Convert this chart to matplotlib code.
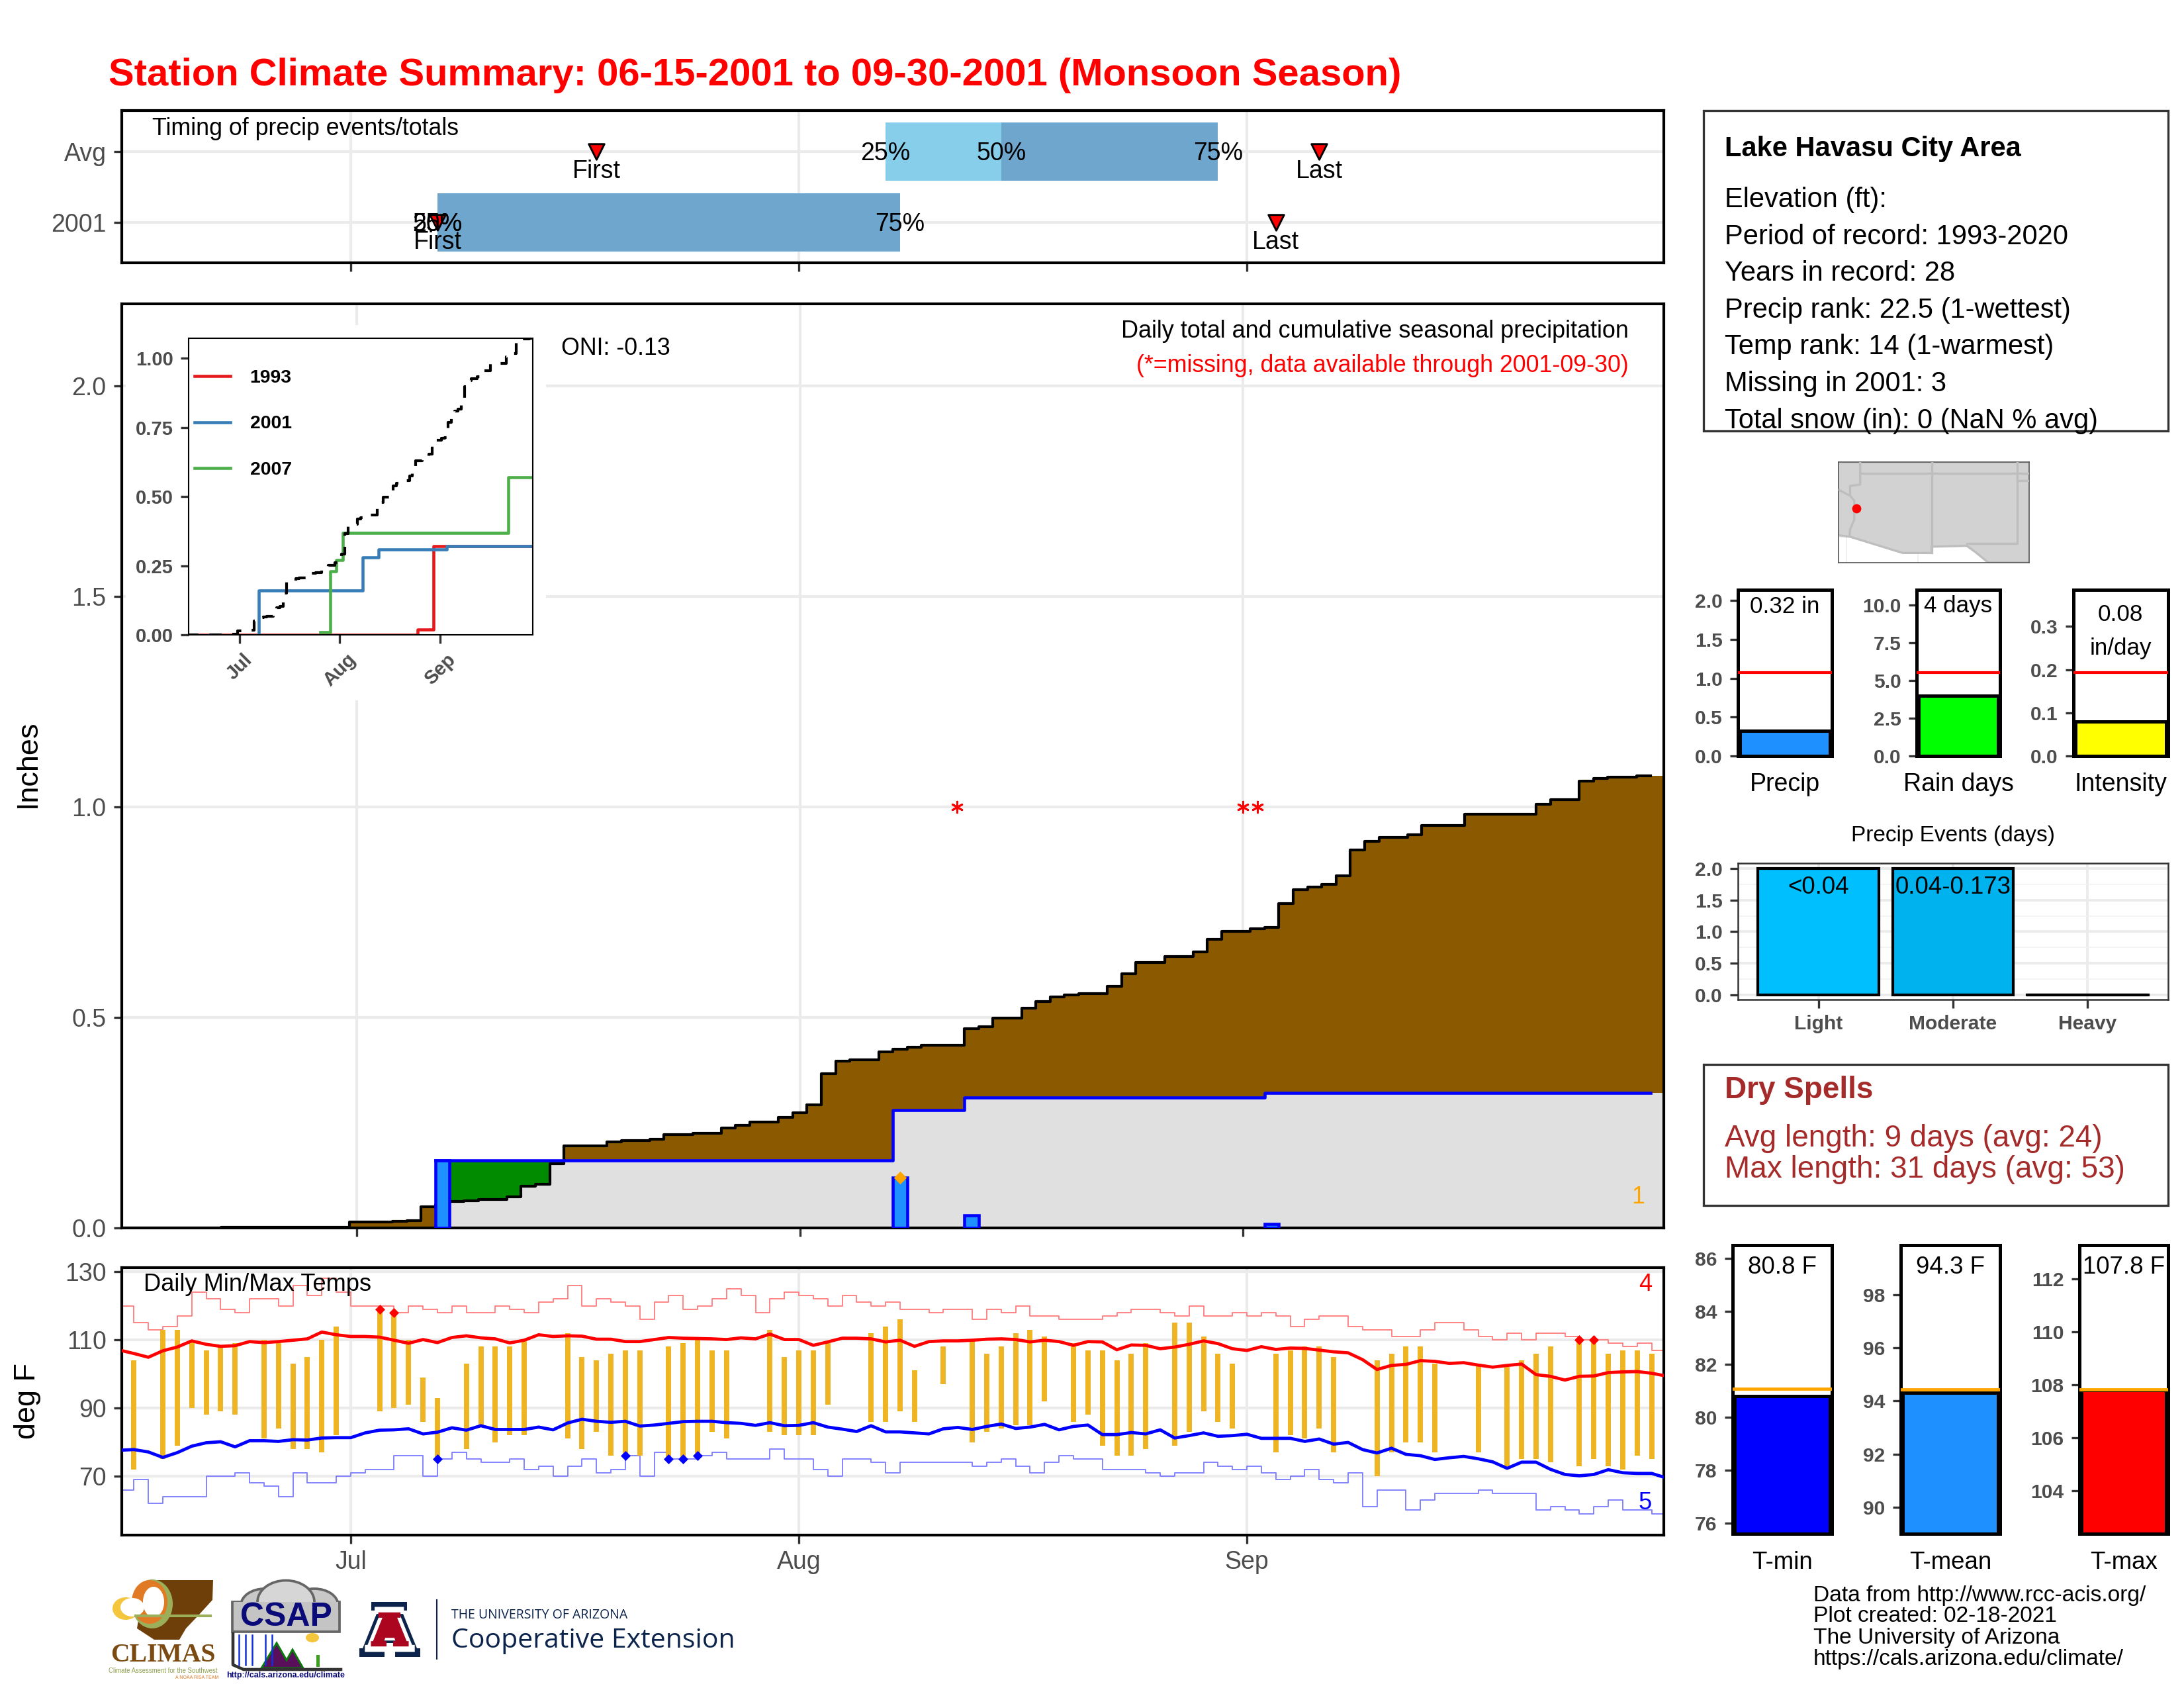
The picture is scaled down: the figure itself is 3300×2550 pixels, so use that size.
import numpy as np
import matplotlib
matplotlib.use("Agg")
from matplotlib import pyplot as plt
from matplotlib.patches import Ellipse, Polygon, Rectangle

plt.rcParams["font.family"] = ["Liberation Sans", "DejaVu Sans"]

W, H = 3300, 2550
GRAY = "#4D4D4D"
GRID = "#EBEBEB"
NAVY = "#0C234B"

# days are counted from Jul 1 (Jun 15 = -16, Aug 1 = 31, Sep 1 = 62, Sep 30 = 91)
month_days = [0, 31, 62]
month_labels = ["Jul", "Aug", "Sep"]

# ---- timing panel
timing_rows = ["2001", "Avg"]
pct_25 = [6, 37]
pct_50 = [6, 45]
pct_75 = [38, 60]
first_day = [6, 17]
last_day = [64, 67]

# ---- daily and cumulative precip
precip_days = np.arange(-16, 91)
avg_cum = [0, 0, 0, 0, 0, 0, 0, 0.001, 0.001, 0.001, 0.001, 0.001, 0.001, 0.002, 0.002, 0.002,
           0.0144, 0.0144, 0.0144, 0.016, 0.0176, 0.05, 0.055, 0.063, 0.065, 0.068,
           0.068, 0.0745, 0.0985, 0.103, 0.152, 0.195, 0.195, 0.195, 0.204, 0.207,
           0.207, 0.21, 0.222, 0.222, 0.225, 0.225, 0.237, 0.244, 0.252, 0.252,
           0.262, 0.274, 0.293, 0.367, 0.397, 0.399, 0.399, 0.419, 0.425, 0.429,
           0.434, 0.434, 0.434, 0.474, 0.478, 0.499, 0.499, 0.522, 0.538, 0.549,
           0.554, 0.557, 0.557, 0.574, 0.603, 0.63, 0.63, 0.644, 0.644, 0.655,
           0.686, 0.704, 0.704, 0.711, 0.714, 0.77, 0.804, 0.809, 0.816, 0.836,
           0.898, 0.919, 0.927, 0.927, 0.934, 0.956, 0.956, 0.956, 0.982, 0.982,
           0.982, 0.982, 0.982, 1.007, 1.018, 1.018, 1.062, 1.068, 1.07, 1.07, 1.074]
rain_days = [6, 38, 43, 64]
rain_totals = [0.16, 0.12, 0.03, 0.01]
missing_days = [42, 62, 63]
extreme_rain_day = [38]
extreme_rain_val = [0.12]

# ---- inset, cumulative precip of other years
inset_1993_days = [-16, 55, 60, 91]
inset_1993_vals = [0, 0.02, 0.32, 0.32]
inset_2001_days = [6, 6, 38, 43, 64, 91]
inset_2001_vals = [0, 0.16, 0.28, 0.31, 0.32, 0.32]
inset_2007_days = [25, 28, 30, 32, 83, 91]
inset_2007_vals = [0.01, 0.23, 0.27, 0.37, 0.57, 0.57]

# ---- temperatures
temp_days = np.arange(-16, 92)
tmax_avg = [107.0, 106.0, 104.9, 106.8, 107.9, 109.7, 108.7, 108.1, 108.3, 109.5, 109.2, 109.5, 109.9,
            110.3, 112.3, 111.5, 111.0, 111.0, 110.8, 109.9, 109.0, 110.1, 109.2, 110.7, 111.2, 110.6,
            110.3, 109.1, 109.9, 111.5, 111.0, 111.2, 111.1, 110.2, 110.2, 109.5, 109.5, 110.1, 110.7,
            110.5, 110.4, 110.3, 110.1, 110.6, 110.3, 111.7, 110.1, 110.1, 108.4, 109.4, 110.5, 110.5,
            110.3, 109.4, 109.9, 108.1, 109.5, 109.7, 109.7, 109.9, 110.2, 110.3, 110.1, 109.4, 109.9,
            109.5, 108.4, 109.5, 109.4, 107.1, 108.5, 108.4, 107.4, 107.9, 108.7, 109.7, 108.9, 107.4,
            106.9, 108.0, 107.2, 107.6, 107.5, 107.0, 106.5, 106.2, 104.2, 101.3, 102.5, 102.8, 103.9,
            103.7, 103.1, 103.3, 102.6, 102.0, 102.5, 102.9, 99.8, 99.3, 98.2, 99.3, 99.4, 100.4, 100.6,
            100.7, 100.2, 99.4]
tmin_avg = [77.6, 77.8, 77.1, 75.5, 76.9, 78.8, 79.8, 80.1, 78.6, 80.4, 80.4, 80.2, 80.7, 80.6, 81.2, 81.3,
            81.3, 82.7, 83.5, 83.6, 83.9, 82.4, 82.9, 84.2, 83.5, 84.8, 83.7, 83.7, 83.7, 84.4, 83.6,
            85.6, 86.7, 86.1, 85.8, 86.1, 84.7, 85.0, 85.5, 86.0, 86.1, 86.1, 85.7, 85.5, 84.9, 85.7,
            84.8, 84.9, 85.7, 84.4, 83.8, 83.1, 84.8, 83.0, 83.0, 82.7, 82.4, 83.9, 84.3, 83.7, 84.6,
            85.3, 84.0, 84.4, 85.2, 83.6, 84.6, 85.0, 82.2, 82.2, 82.8, 82.4, 83.6, 81.2, 81.9, 82.7,
            81.7, 81.9, 82.3, 81.1, 81.1, 81.1, 80.2, 80.9, 79.4, 79.9, 77.8, 76.8, 78.2, 76.4, 76.0,
            74.9, 75.4, 75.8, 75.1, 74.2, 72.3, 74.1, 74.1, 72.0, 70.5, 70.1, 70.5, 71.9, 71.0, 70.8,
            70.8, 69.5]
record_hi = [120, 115, 113, 114, 117, 124, 122, 119, 118, 122, 122, 120, 126, 123, 128, 124,
             120, 120, 120, 118, 120, 119, 118, 120, 118, 118,
             120, 119, 118, 121, 122, 126, 120, 122, 121, 120,
             116, 121, 123, 119, 120, 122, 125, 123, 118, 122,
             124, 123, 122, 120, 123, 121, 120, 121, 119, 119,
             118, 119, 119, 116, 119, 118, 120, 117, 117, 116,
             116, 116, 117, 118, 119, 119, 118, 117, 120, 117,
             117, 118, 117, 118, 117, 114, 116, 117, 117, 114,
             113, 113, 111, 111, 113, 115, 115, 113, 111, 110,
             112, 110, 112, 112, 111, 110, 110, 109, 108, 109,
             107, 107]
record_lo = [66, 69, 62, 64, 64, 64, 70, 70, 71, 68, 67, 64, 71, 68, 68, 70,
             71, 72, 72, 76, 76, 70, 75, 77, 75, 74,
             74, 75, 72, 73, 70, 73, 75, 71, 72, 76,
             70, 77, 75, 75, 76, 77, 75, 75, 75, 78,
             75, 75, 72, 70, 75, 75, 74, 71, 74, 74,
             74, 74, 74, 73, 74, 75, 73, 71, 74, 76,
             75, 75, 72, 72, 72, 71, 70, 71, 71, 74,
             73, 72, 73, 71, 69, 70, 72, 69, 68, 71,
             61, 66, 66, 60, 63, 65, 65, 65, 66, 65,
             65, 65, 60, 61, 60, 59, 61, 63, 60, 60,
             59, 59]
obs_days = [-15, -13, -12, -11, -10, -9, -8, -6, -5, -4, -3, -2, -1, 2, 3, 4, 5, 6, 8, 9, 10, 11, 12,
            15, 16, 17, 18, 19, 20, 22, 23, 24, 25, 26, 29, 30, 31, 32, 33, 36, 37, 38, 39, 41,
            43, 44, 45, 46, 47, 48, 50, 51, 52, 53, 54, 55, 57, 58, 59, 60, 61,
            64, 65, 66, 67, 68, 71, 72, 73, 74, 75, 78, 80, 81, 82, 83, 85, 86, 87, 88, 89, 90]
obs_hi = [104, 113, 113, 110, 107, 108, 109, 110, 109, 103, 105, 110, 114, 119, 118, 110, 99, 93, 103, 108, 108, 108, 110,
          112, 105, 104, 106, 107, 107, 108, 109, 110, 107, 107, 113, 105, 107, 107, 109, 112, 114, 116, 101, 108,
          110, 106, 108, 112, 113, 111, 109, 107, 107, 104, 106, 109, 115, 115, 111, 106, 103,
          106, 107, 108, 108, 105, 104, 106, 108, 108, 103, 103, 102, 104, 106, 108, 110, 110, 106, 107, 107, 106]
obs_lo = [72, 75, 79, 90, 88, 89, 88, 81, 84, 78, 78, 77, 82, 89, 90, 91, 86, 75, 78, 85, 80, 82, 82,
          81, 78, 83, 76, 76, 76, 75, 75, 76, 83, 81, 83, 82, 82, 82, 91, 86, 86, 89, 86, 97,
          80, 83, 84, 85, 85, 92, 86, 88, 79, 76, 76, 78, 79, 83, 89, 86, 84,
          77, 82, 81, 84, 77, 70, 77, 80, 80, 77, 77, 73, 75, 75, 74, 73, 75, 73, 72, 76, 75]
hi_flag_days = [2, 3, 85, 86]
hi_flag_vals = [119, 118, 110, 110]
lo_flag_days = [6, 19, 22, 23, 24]
lo_flag_vals = [75, 76, 75, 75, 76]

# ---- side panels
info_lines = ["Elevation (ft):", "Period of record: 1993-2020", "Years in record: 28",
              "Precip rank: 22.5 (1-wettest)", "Temp rank: 14 (1-warmest)",
              "Missing in 2001: 3", "Total snow (in): 0 (NaN % avg)"]
event_names = ["Light", "Moderate", "Heavy"]
event_days = [2, 2, 0]
event_text = ["<0.04", "0.04-0.173", ""]
event_cols = ["#00BFFF", "#00B2EE", "#009ACD"]
footer_lines = ["Data from http://www.rcc-acis.org/", "Plot created: 02-18-2021",
                "The University of Arizona", "https://cals.arizona.edu/climate/"]

# rough outlines for the locator map, lon/lat
land_lon = [-115.6, -115.6, -114.9, -114.8, -111.07, -109.05, -109.05, -106.6, -106.0, -105.1, -102.2, -102.2]
land_lat = [37.8, 32.6, 32.5, 32.5, 31.33, 31.33, 31.78, 31.84, 31.4, 30.65, 30.65, 37.8]
state_lines = [
    ([-109.05, -109.05], [37.8, 31.33]),
    ([-114.05, -114.05, -114.75, -114.75, -115.6], [37.8, 36.2, 36.1, 35.4, 35.85]),
    ([-114.75, -114.46, -114.46, -114.75, -114.8], [35.4, 35.05, 33.7, 33.0, 32.5]),
    ([-114.05, -102.2], [37.0, 37.0]),
    ([-103.05, -103.05, -106.6], [37.8, 32.0, 32.0]),
    ([-103.05, -102.2], [36.5, 36.5]),
]
station_lon = [-114.3]
station_lat = [34.5]


def panel(left, top, right, bottom, zorder=1):
    return fig.add_axes([left / W, 1 - bottom / H, (right - left) / W, (bottom - top) / H], zorder=zorder)


def style(ax, border=1.0, size=9.0, weight="normal", ticklen=3, pad=2.6):
    for s in ax.spines.values():
        s.set_linewidth(border)
        s.set_color("black")
    ax.tick_params(length=ticklen, width=0.8, color="#333333", labelcolor=GRAY, labelsize=size, pad=pad)
    for lab in ax.get_xticklabels() + ax.get_yticklabels():
        lab.set_fontweight(weight)


def mid_steps(days, vals):
    xs = np.column_stack([np.asarray(days) - 0.5, np.asarray(days) + 0.5]).ravel()
    return xs, np.repeat(vals, 2)


def label(x, y, text, **kw):
    # y is where the reference text sits, the 4 px lifts the box centre onto the glyph centre
    kw.setdefault("va", "center")
    page.text(x, y + 4, text, **kw)


def mini_bar(box, ylim, ticks, ticklabels, value, color, ref, ref_col):
    ax = panel(*box, zorder=3)
    ax.bar([0], [value], width=0.9, color=color, edgecolor="black", linewidth=1.2, zorder=2)
    ax.axhline(ref, color=ref_col, lw=1.0 if ref_col == "red" else 1.15, zorder=3)
    ax.set_xlim(-0.47, 0.47)
    ax.set_ylim(*ylim)
    ax.set_xticks([])
    ax.set_yticks(ticks)
    ax.set_yticklabels(ticklabels)
    style(ax, border=1.2, size=7.2, weight="bold")
    return ax


fig = plt.figure(figsize=(11, 8.5), dpi=300)
page = fig.add_axes([0, 0, 1, 1], zorder=20)
page.set_xlim(0, W)
page.set_ylim(H, 0)
page.axis("off")
page.patch.set_alpha(0)

label(164, 110, "Station Climate Summary: 06-15-2001 to 09-30-2001 (Monsoon Season)", color="red",
      fontsize=13.92, fontweight="bold")

# timing of precip
ax_top = panel(184, 167, 2514, 397)
ax_top.set_axisbelow(True)
ax_top.grid(True, color=GRID, lw=1.0)
rows = np.arange(len(timing_rows)) + 1
ax_top.barh(rows, np.array(pct_50) - np.array(pct_25), left=pct_25, height=0.83, color="#87CEEB", lw=0)
ax_top.barh(rows, np.array(pct_75) - np.array(pct_50), left=pct_50, height=0.83, color="#6FA6CD", lw=0)
ax_top.scatter(first_day, rows, marker="v", s=32, c="red", edgecolors="black", linewidths=0.7, zorder=3)
ax_top.scatter(last_day, rows, marker="v", s=32, c="red", edgecolors="black", linewidths=0.7, zorder=3)
for r, p25, p50, p75, fd, ld in zip(rows, pct_25, pct_50, pct_75, first_day, last_day):
    ax_top.text(p25, r - 0.03, "25%", ha="center", va="center", fontsize=9, zorder=4)
    ax_top.text(p50, r - 0.03, "50%", ha="center", va="center", fontsize=9, zorder=4)
    ax_top.text(p75, r - 0.03, "75%", ha="center", va="center", fontsize=9, zorder=4)
    ax_top.text(fd, r - 0.28, "First", ha="center", va="center", fontsize=9, zorder=4)
    ax_top.text(ld, r - 0.28, "Last", ha="center", va="center", fontsize=9, zorder=4)
ax_top.set_xlim(-15.84, 90.84)
ax_top.set_ylim(0.43, 2.58)
ax_top.set_xticks(month_days)
ax_top.set_xticklabels([])
ax_top.set_yticks(rows)
ax_top.set_yticklabels(timing_rows)
style(ax_top)
label(230, 190, "Timing of precip events/totals", fontsize=8.6)

# main precip panel
ax = panel(184, 459, 2514, 1855)
ax.set_axisbelow(True)
ax.grid(True, color=GRID, lw=1.0)
cum_2001 = np.zeros(len(precip_days))
for d, v in zip(rain_days, rain_totals):
    cum_2001[precip_days >= d] += v
xs, ys_avg = mid_steps(precip_days, avg_cum)
_, ys_obs = mid_steps(precip_days, cum_2001)
# ribbons run on to the right edge of the panel
xs_fill = np.append(xs, 91.5)
avg_fill = np.append(ys_avg, ys_avg[-1])
obs_fill = np.append(ys_obs, ys_obs[-1])
ax.fill_between(xs_fill, 0, np.minimum(avg_fill, obs_fill), color="#E0E0E0", lw=0, zorder=1)
ax.fill_between(xs_fill, obs_fill, avg_fill, where=avg_fill >= obs_fill, color="#8B5A00", lw=0, zorder=1)
ax.fill_between(xs_fill, avg_fill, obs_fill, where=obs_fill >= avg_fill, color="#008B00", lw=0, zorder=1)
ax.plot(xs, ys_avg, color="black", lw=1.0, zorder=2)
ax.plot(xs[44:], ys_obs[44:], color="blue", lw=1.1, zorder=3)
ax.bar(rain_days, rain_totals, width=1, color="#1E90FF", edgecolor="blue", linewidth=1.1, zorder=4)
ax.scatter(extreme_rain_day, extreme_rain_val, marker="D", s=11, c="orange", lw=0, zorder=5)
ax.scatter(missing_days, [1.0] * len(missing_days), marker=(6, 2, 0), s=16, c="red", linewidths=0.7, zorder=5)
ax.set_xlim(-16.43, 91.42)
ax.set_ylim(0, 2.195)
ax.set_xticks(month_days)
ax.set_xticklabels([])
ax.set_yticks([0, 0.5, 1.0, 1.5, 2.0])
style(ax)
label(42, 1150, "Inches", rotation=90, fontsize=10.8, ha="center")
label(848, 522, "ONI: -0.13", fontsize=8.6)
label(2461, 497, "Daily total and cumulative seasonal precipitation", fontsize=8.65, ha="right")
label(2461, 549, "(*=missing, data available through 2001-09-30)", fontsize=8.6, color="red", ha="right")
label(2475, 1804, "1", fontsize=8.6, color="orange", ha="center")

# inset
inset_bg = panel(190, 491, 825, 1058, zorder=2)
inset_bg.set_xticks([])
inset_bg.set_yticks([])
inset_bg.axis("off")
inset_bg.add_patch(Rectangle((0, 0), 1, 1, transform=inset_bg.transAxes, color="white", lw=0))
ins = panel(285, 511, 805, 959, zorder=3)
ins.step(inset_1993_days, inset_1993_vals, where="post", color="#E41A1C", lw=1.1, label="1993")
ins.step(inset_2001_days, inset_2001_vals, where="post", color="#377EB8", lw=1.1, label="2001")
ins.step(inset_2007_days, inset_2007_vals, where="post", color="#4DAF4A", lw=1.1, label="2007")
ins.plot(xs, ys_avg, color="black", lw=1.0, ls=(0, (4.5, 4)))
ins.set_xlim(-15.65, 90.6)
ins.set_ylim(0, 1.073)
ins.set_xticks(month_days)
ins.set_xticklabels(month_labels, rotation=45, ha="center")
ins.set_yticks([0, 0.25, 0.5, 0.75, 1.0])
ins.set_yticklabels(["0.00", "0.25", "0.50", "0.75", "1.00"])
style(ins, border=0.5, size=7.0, weight="bold")
leg = ins.legend(loc="upper left", bbox_to_anchor=(0.0, 0.915), frameon=False, fontsize=6.8,
                 handlelength=1.94, labelspacing=1.55, handletextpad=1.03, borderaxespad=0.15, borderpad=0.15)
for t in leg.get_texts():
    t.set_fontweight("bold")

# temperatures
ax_t = panel(184, 1915, 2514, 2319)
ax_t.set_axisbelow(True)
ax_t.grid(True, color=GRID, lw=1.0)
ax_t.step(temp_days, record_hi, where="post", color="#FF8080", lw=0.45, zorder=2)
ax_t.step(temp_days, record_lo, where="post", color="#7F7FFF", lw=0.45, zorder=2)
ax_t.vlines(obs_days, obs_lo, obs_hi, color="#EEB422", lw=1.9, zorder=3)
ax_t.plot(temp_days, tmax_avg, color="red", lw=1.15, zorder=4)
ax_t.plot(temp_days, tmin_avg, color="blue", lw=1.15, zorder=4)
ax_t.scatter(hi_flag_days, hi_flag_vals, marker="D", s=6.5, c="red", lw=0, zorder=5)
ax_t.scatter(lo_flag_days, lo_flag_vals, marker="D", s=6.5, c="blue", lw=0, zorder=5)
ax_t.set_xlim(-15.84, 90.84)
ax_t.set_ylim(52.7, 131.2)
ax_t.set_xticks(month_days)
ax_t.set_xticklabels(month_labels)
ax_t.set_yticks([70, 90, 110, 130])
style(ax_t)
label(42, 2112, "deg F", rotation=90, fontsize=10.8, ha="center")
label(217, 1936, "Daily Min/Max Temps", fontsize=8.7)
label(2486, 1936, "4", fontsize=8.7, color="red", ha="center")
label(2486, 2266, "5", fontsize=8.7, color="blue", ha="center")

# info box
page.add_patch(Rectangle((2574, 167), 702, 484, fc="white", ec="#333333", lw=0.8))
label(2606, 221, "Lake Havasu City Area", fontsize=10, fontweight="bold")
for i, line in enumerate(info_lines):
    label(2606, 298 + i * 55.6, line, fontsize=10)

# locator map
ax_map = panel(2778, 698, 3066, 850, zorder=3)
ax_map.set_axisbelow(True)
ax_map.grid(True, color="#EEEEEE", lw=0.4)
ax_map.add_patch(Polygon(np.column_stack([land_lon, land_lat]), fc="#D2D2D2", ec="#BEBEBE", lw=0.8, zorder=2))
for lon, lat in state_lines:
    ax_map.plot(lon, lat, color="#BEBEBE", lw=0.8, zorder=3)
ax_map.scatter(station_lon, station_lat, s=11, c="red", lw=0, zorder=4)
ax_map.set_xlim(-115.56, -102.24)
ax_map.set_ylim(30.64, 37.8)
ax_map.tick_params(length=0, labelbottom=False, labelleft=False)
for s in ax_map.spines.values():
    s.set_linewidth(0.4)
    s.set_color("#555555")

# precip bars
mini_bar((2626, 891, 2768, 1142), (0, 2.137), [0, 0.5, 1.0, 1.5, 2.0], ["0.0", "0.5", "1.0", "1.5", "2.0"],
         0.32, "#1E90FF", 1.075, "red")
mini_bar((2896, 891, 3022, 1142), (0, 11.03), [0, 2.5, 5, 7.5, 10], ["0.0", "2.5", "5.0", "7.5", "10.0"],
         4, "#00FF00", 5.54, "red")
mini_bar((3133, 891, 3276, 1142), (0, 0.385), [0, 0.1, 0.2, 0.3], ["0.0", "0.1", "0.2", "0.3"],
         0.08, "#FFFF00", 0.194, "red")
label(2697, 912, "0.32 in", fontsize=8.4, ha="center")
label(2959, 912, "4 days", fontsize=8.4, ha="center")
label(3204, 925, "0.08", fontsize=8.4, ha="center")
label(3204, 976, "in/day", fontsize=8.4, ha="center")
label(2697, 1181, "Precip", fontsize=9, ha="center")
label(2959, 1181, "Rain days", fontsize=9, ha="center")
label(3204, 1181, "Intensity", fontsize=9, ha="center")

# precip events
ax_ev = panel(2626, 1304, 3276, 1510, zorder=3)
ax_ev.set_axisbelow(True)
ax_ev.grid(True, color=GRID, lw=0.9)
ax_ev.set_yticks([0.25, 0.75, 1.25, 1.75], minor=True)
ax_ev.grid(True, which="minor", axis="y", color="#F2F2F2", lw=0.4)
ax_ev.bar(range(3), event_days, width=0.9, color=event_cols, edgecolor="black", linewidth=1.0)
ax_ev.plot([1.55, 2.45], [0, 0], color="black", lw=1.0)
for i, t in enumerate(event_text):
    ax_ev.text(i, 1.70, t, ha="center", va="center", fontsize=8.8)
ax_ev.set_xlim(-0.6, 2.6)
ax_ev.set_ylim(-0.077, 2.084)
ax_ev.set_xticks(range(3))
ax_ev.set_xticklabels(event_names)
ax_ev.set_yticks([0, 0.5, 1.0, 1.5, 2.0])
style(ax_ev, border=0.6, size=7.2, weight="bold")
ax_ev.tick_params(which="minor", length=0)
for s in ax_ev.spines.values():
    s.set_color("#333333")
label(2951, 1258, "Precip Events (days)", fontsize=8.0, ha="center")

# dry spells
page.add_patch(Rectangle((2574, 1608), 702, 213, fc="white", ec="#333333", lw=0.8))
label(2606, 1643, "Dry Spells", fontsize=11, fontweight="bold", color="#A52A2A")
label(2606, 1716, "Avg length: 9 days (avg: 24)", fontsize=11.0, color="#A52A2A")
label(2606, 1763, "Max length: 31 days (avg: 53)", fontsize=11.0, color="#A52A2A")

# temperature bars
mini_bar((2618, 1881, 2768, 2317), (75.6, 86.5), [76, 78, 80, 82, 84, 86], ["76", "78", "80", "82", "84", "86"],
         80.8, "blue", 81.07, "orange")
mini_bar((2872, 1881, 3022, 2317), (89.0, 99.87), [90, 92, 94, 96, 98], ["90", "92", "94", "96", "98"],
         94.3, "#1E90FF", 94.44, "orange")
mini_bar((3142, 1881, 3276, 2317), (102.37, 113.27), [104, 106, 108, 110, 112], ["104", "106", "108", "110", "112"],
         107.8, "red", 107.82, "orange")
label(2693, 1911, "80.8 F", fontsize=8.8, ha="center")
label(2947, 1911, "94.3 F", fontsize=8.8, ha="center")
label(3209, 1911, "107.8 F", fontsize=8.8, ha="center")
label(2693, 2356, "T-min", fontsize=8.8, ha="center")
label(2947, 2356, "T-mean", fontsize=8.8, ha="center")
label(3209, 2356, "T-max", fontsize=8.8, ha="center")

for i, line in enumerate(footer_lines):
    label(2740, 2406 + i * 32, line, fontsize=8.05)

# logos, only sketched
page.add_patch(Polygon([(233, 2387), (322, 2387), (321, 2417), (300, 2440), (281, 2460), (271, 2477),
                        (233, 2477), (207, 2460), (214, 2417)], fc="#6F3F0A", lw=0))
page.add_patch(Ellipse((230, 2423), 62, 74, fc="#9BAF5A", lw=0))
page.add_patch(Ellipse((226, 2420), 54, 66, fc="#E17A25", lw=0))
page.add_patch(Ellipse((232, 2420), 32, 46, fc="white", lw=0))
page.add_patch(Ellipse((190, 2430), 40, 34, fc="#F4C63D", lw=0))
page.add_patch(Ellipse((200, 2428), 36, 28, fc="white", lw=0))
page.plot([205, 318], [2441, 2441], color="#9BAF5A", lw=1)
label(246, 2497, "CLIMAS", family="Liberation Serif", fontsize=9.5, fontweight="bold", color="#7B4A12", ha="center")
label(246, 2520, "Climate Assessment for the Southwest", fontsize=2.3, color="#8FA04F", ha="center")
label(298, 2530, "A NOAA RISA TEAM", fontsize=1.7, color="#E17A25", ha="center")

page.add_patch(Rectangle((351, 2420), 162, 45, fc="#C4C4C4", ec="#666666", lw=0.9))
page.add_patch(Ellipse((400, 2425), 72, 50, fc="#C8C8C8", ec="#666666", lw=0.9))
page.add_patch(Ellipse((475, 2425), 72, 50, fc="#C8C8C8", ec="#666666", lw=0.9))
page.add_patch(Ellipse((432, 2420), 86, 65, fc="#D6D6D6", ec="#666666", lw=0.9))
page.add_patch(Rectangle((353, 2420), 158, 43, fc="#C4C4C4", lw=0))
label(432, 2439, "CSAP", fontsize=12, fontweight="bold", color="#0A0A78", ha="center")
page.plot([352, 352, 368, 515], [2468, 2515, 2522, 2522], color="#333333", lw=1.1)
for x in (361, 371, 381, 401, 411):
    page.plot([x, x], [2470, 2515], color="#1030E0", lw=0.6)
page.add_patch(Polygon([(395, 2520), (418, 2482), (433, 2508), (442, 2492), (458, 2520)], fc="#5A0F5A", ec="#0A7A0A", lw=0.7))
page.add_patch(Rectangle((478, 2500), 5, 18, fc="#3CA01E", lw=0))
page.add_patch(Ellipse((472, 2474), 20, 14, fc="#F4C63D", lw=0))
label(432, 2527, "http://cals.arizona.edu/climate", fontsize=3.0, fontweight="bold", color="#0A0A78", ha="center")

# block A, outline scaled in twice about its centre
block_a = np.array([(561, 2420), (615, 2420), (615, 2433), (607, 2433), (630, 2490), (635, 2490), (635, 2503),
                    (597, 2503), (597, 2490), (603, 2490), (600, 2482), (578, 2482), (575, 2490), (581, 2490),
                    (581, 2503), (543, 2503), (543, 2490), (548, 2490), (571, 2433), (561, 2433)], dtype=float)
centre = np.array([589, 2461.5])
page.add_patch(Polygon(block_a, fc=NAVY, lw=0))
page.add_patch(Polygon(centre + (block_a - centre) * 0.82, fc="white", lw=0))
page.add_patch(Polygon(centre + (block_a - centre) * 0.62, fc="#AB0520", lw=0))
page.plot([660, 660], [2417, 2506], color=NAVY, lw=0.5)
label(682, 2436, "THE UNIVERSITY OF ARIZONA", family="Open Sans", fontsize=4.7, color=NAVY)
label(682, 2475, "Cooperative Extension", family="Open Sans", fontsize=9.85, color=NAVY)

fig.savefig("out.png", dpi=300)
